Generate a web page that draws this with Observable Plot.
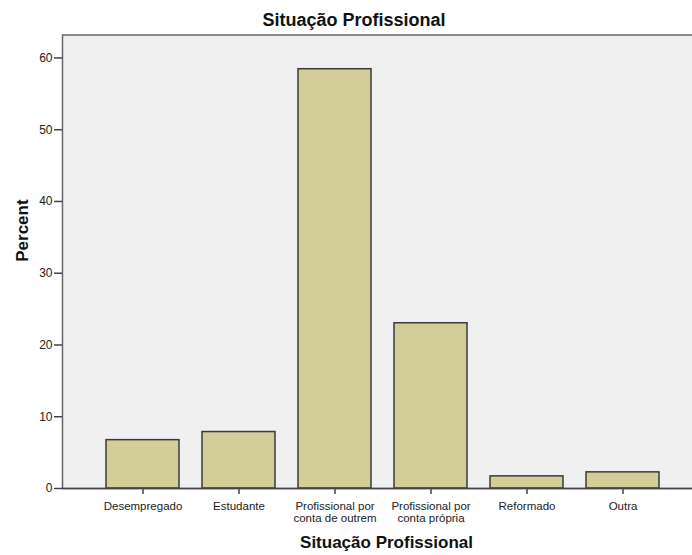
<!DOCTYPE html>
<html>
<head>
<meta charset="utf-8">
<script src="https://cdn.jsdelivr.net/npm/d3@7"></script>
<script src="https://cdn.jsdelivr.net/npm/@observablehq/plot@0.6"></script>
<style>
  html, body { margin: 0; padding: 0; background: #fff; overflow: hidden; width: 692px; height: 555px; }
  #title { height: 26px; width: 692px; position: relative; font-family: "Liberation Sans", Arial, sans-serif; font-weight: bold; font-size: 18px; line-height: 18px; color: #111; }
  #title span { position: absolute; left: 354px; top: 11px; transform: translateX(-50%); white-space: nowrap; }
  #chart { width: 692px; height: 529px; overflow: hidden; }
  #chart svg { max-width: none !important; }
</style>
</head>
<body>
<div id="title"><span>Situação Profissional</span></div>
<div id="chart"></div>
<script>
const categories = ["Desempregado", "Estudante", "Profissional por\nconta de outrem", "Profissional por\nconta própria", "Reformado", "Outra"];
const percents = [6.74, 7.87, 58.43, 23.03, 1.69, 2.25];
const yTicks = [0, 10, 20, 30, 40, 50, 60];
const xTitle = "Situação Profissional";
const yTitle = "Percent";

const data = categories.map((c, i) => ({category: c, percent: percents[i]}));

const chart = Plot.plot({
  width: 710,
  height: 529,
  marginLeft: 62,
  marginRight: 0,
  marginTop: 8.5,
  marginBottom: 67,
  style: {fontFamily: "'Liberation Sans', Arial, sans-serif", fontSize: "12px", color: "#222", background: "#fff", overflow: "visible", maxWidth: "none"},
  x: {domain: categories, range: [94.5, 670.5], paddingInner: 0.24, paddingOuter: 0.12, axis: null},
  y: {domain: [0, 63.2], axis: null},
  marks: [
    Plot.frame({fill: "#F0F0F0", stroke: "#666", strokeWidth: 1.5}),
    Plot.barY(data, {x: "category", y: "percent", fill: "#D3CE97", stroke: "#3a3a3a", strokeWidth: 1.5}),
    Plot.axisY({ticks: yTicks, tickSize: 8, tickPadding: 2, label: null, stroke: "#444", strokeWidth: 1.5, fill: "#222"}),
    Plot.axisX({tickSize: 6, tickPadding: 7, label: null, stroke: "#444", strokeWidth: 1.5, fill: "#222", lineHeight: 1.04, fontSize: 11.5}),
    Plot.ruleY([0], {stroke: "#444", strokeWidth: 1.5}),
    Plot.text([xTitle], {frameAnchor: "bottom", dx: 0, dy: 59, fontWeight: "bold", fontSize: 17, fill: "#111", textAnchor: "middle"}),
    Plot.text([yTitle], {frameAnchor: "left", dx: -40, rotate: -90, fontWeight: "bold", fontSize: 17, fill: "#111"})
  ]
});
document.getElementById("chart").appendChild(chart);
</script>
</body>
</html>
